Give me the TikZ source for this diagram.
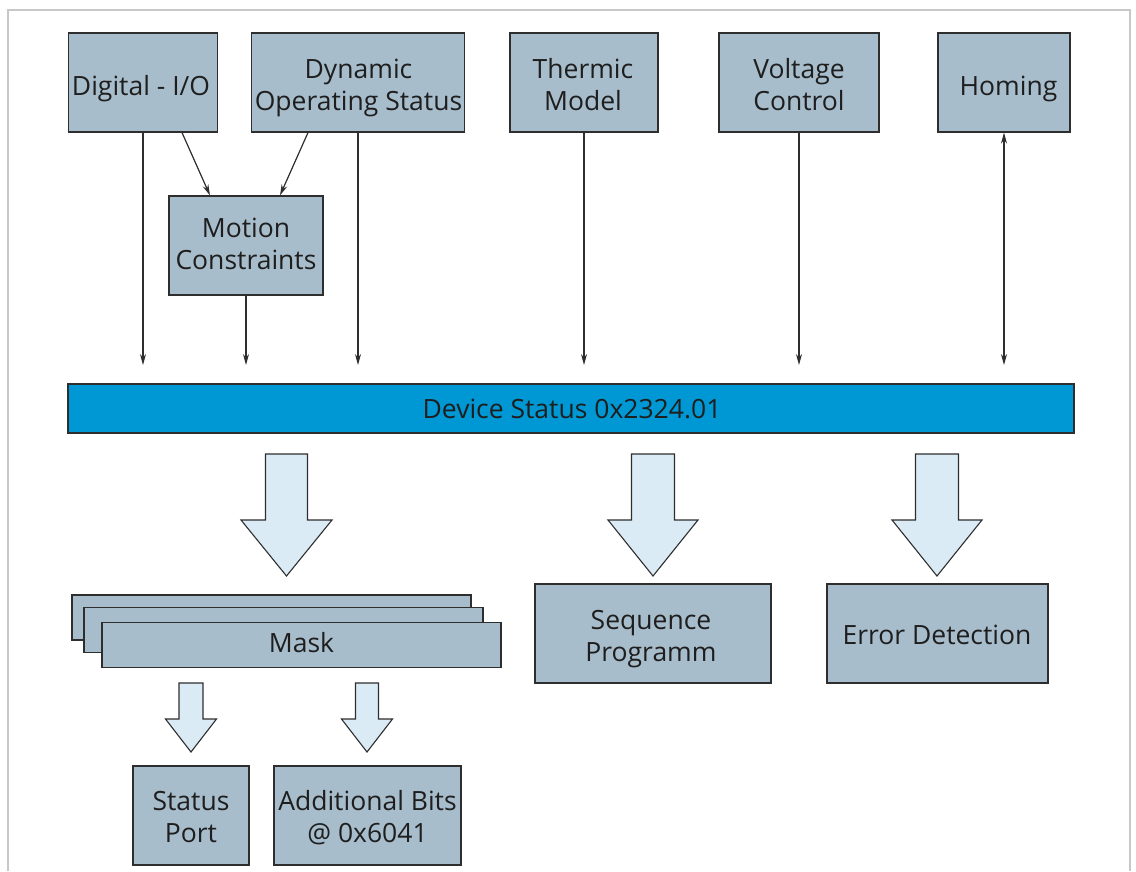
\documentclass[tikz,border=0pt]{standalone}
\usepackage{fontspec}
\setmainfont{Open Sans}
\usetikzlibrary{arrows.meta}
\definecolor{boxfill}{HTML}{A8BDCB}
\definecolor{edge}{HTML}{2E2E2E}
\definecolor{barblue}{HTML}{0098D4}
\definecolor{arrfill}{HTML}{DAEBF6}
\definecolor{txt}{HTML}{1E1E1E}
\definecolor{framec}{HTML}{C8C8C8}
\newcommand\fatarr[6]{\filldraw[fat] (#1-#3,#2) -- (#1+#3,#2) -- (#1+#3,#4) -- (#1+#5,#4) -- (#1,#6) -- (#1-#5,#4) -- (#1-#3,#4) -- cycle;}
\begin{document}
\begin{tikzpicture}[x=1pt,y=-1pt,
  font=\fontsize{26.5}{31.5}\selectfont,
  box/.style={draw=edge, fill=boxfill, line width=1.2pt, inner sep=0pt, minimum height=99},
  lbl/.style={inner sep=0pt, align=center, text=txt, anchor=base},
  conn/.style={draw=edge, line width=1.2pt, -{Stealth[length=11pt,width=6pt]}},
  fat/.style={draw=edge, fill=arrfill, line width=1.1pt, line join=miter}]
\useasboundingbox (0,0) rectangle (1136,871);
\draw[framec, line width=1.2pt] (8,871) -- (8,10) -- (1130,10) -- (1130,871);
% top row
\node[box, minimum width=149] (dio) at (143,82.5) {};
\node[lbl] (dioT) at (141,95) {Digital - I/O};
\node[box, minimum width=213] (dos) at (358,82.5) {};
\node[lbl] (dosT) at (358.5,110) {Dynamic\\Operating Status};
\node[box, minimum width=154] (mc) at (246,245.5) {};
\node[lbl] (mcT) at (246,269) {Motion\\Constraints};
\node[box, minimum width=148] (tm) at (584,82.5) {};
\node[lbl] (tmT) at (583,110) {Thermic\\Model};
\node[box, minimum width=160] (vc) at (799,82.5) {};
\node[lbl] (vcT) at (799,110) {Voltage\\Control};
\node[box, minimum width=132] (hom) at (1004,82.5) {};
\node[lbl] (homT) at (1008.5,95) {Homing};
% bar
\node[box, fill=barblue, minimum width=1006, minimum height=49] (ds) at (571,408.5) {};
\node[lbl] (dsT) at (572,418) {Device Status 0x2324.01};
% connectors
\coordinate (lvl) at (0,365);
\draw[conn] (dio.south) -- (dio.south |- lvl);
\draw[conn] (mc.south) -- (mc.south |- lvl);
\draw[conn] (dos.south) -- (dos.south |- lvl);
\draw[conn] (tm.south) -- (tm.south |- lvl);
\draw[conn] (vc.south) -- (vc.south |- lvl);
\draw[conn, {Stealth[length=11pt,width=6pt]}-{Stealth[length=11pt,width=6pt]}] (hom.south) -- (hom.south |- lvl);
\draw[conn] ([xshift=39pt]dio.south) -- ([xshift=-36pt]mc.north);
\draw[conn] ([xshift=-50pt]dos.south) -- ([xshift=34pt]mc.north);
% fat arrows
\fatarr{286.5}{454}{21}{520}{45.5}{576}
\fatarr{653}{454}{21.5}{520}{45}{576}
\fatarr{937}{454}{21.5}{520}{45}{576}
% mask stack
\node[box, minimum width=399, minimum height=45] (m3) at (271.5,617.5) {};
\node[box, minimum width=399, minimum height=45] (m2) at (283.5,630) {};
\node[box, minimum width=399, minimum height=45] (mask) at (301.5,645) {};
\node[lbl] (maskT) at (301.5,652) {Mask};
% lower boxes
\node[box, minimum width=236] (seq) at (653,633.5) {};
\node[lbl] (seqT) at (651,661) {Sequence\\Programm};
\node[box, minimum width=221] (err) at (937.5,633.5) {};
\node[lbl] (errT) at (937,644) {Error Detection};
\fatarr{191}{683}{12}{719}{25.5}{752}
\fatarr{367}{683}{11.5}{719}{25.5}{752}
\node[box, minimum width=116] (sp) at (191,815.5) {};
\node[lbl] (spT) at (191,842) {Status\\Port};
\node[box, minimum width=187] (ab) at (367.5,815.5) {};
\node[lbl] (abT) at (367.5,842) {Additional Bits\\@ 0x6041};
\end{tikzpicture}
\end{document}
